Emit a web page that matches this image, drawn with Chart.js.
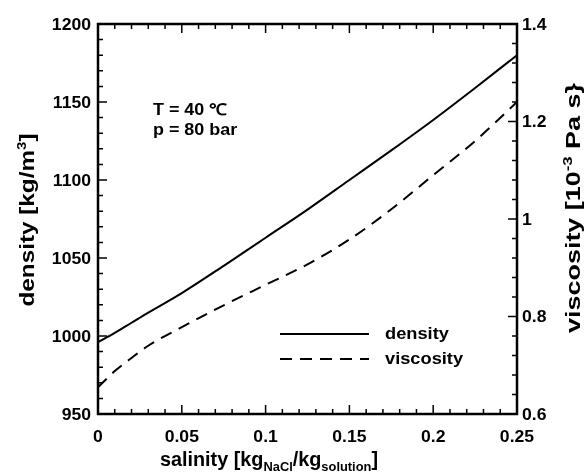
<!DOCTYPE html>
<html>
<head>
<meta charset="utf-8">
<script src="https://cdn.jsdelivr.net/npm/chart.js@4.4.0/dist/chart.umd.min.js"></script>
<style>
  body { margin: 0; background: #fff; }
  canvas { display: block; }
</style>
</head>
<body>
<canvas id="chart" width="586" height="473"></canvas>
<script>
// Data ---------------------------------------------------------------------------
const salinity  = [0, 0.01, 0.02, 0.03, 0.05, 0.075, 0.1, 0.125, 0.15, 0.175, 0.2, 0.225, 0.25];
const density   = [996, 1002, 1008.5, 1015, 1027.5, 1045, 1063, 1081, 1100, 1119, 1138.5, 1159, 1180];
const viscosity = [0.655, 0.688, 0.715, 0.74, 0.778, 0.823, 0.865, 0.907, 0.958, 1.02, 1.09, 1.16, 1.24];

const salinityTicks  = [0, 0.05, 0.1, 0.15, 0.2, 0.25];
const salinityLabels = ['0', '0.05', '0.1', '0.15', '0.2', '0.25'];
const densityTicks   = [950, 1000, 1050, 1100, 1150, 1200];
const viscosityTicks = [0.6, 0.8, 1.0, 1.2, 1.4];
const viscosityLabels = ['0.6', '0.8', '1', '1.2', '1.4'];

const seriesNames = ['density', 'viscosity'];

// helpers ------------------------------------------------------------------------
const FAMILY = '"Liberation Sans", Arial, Helvetica, sans-serif';
const font = size => 'bold ' + size + 'px ' + FAMILY;

// draw a run of text parts [{t, size, dy}] starting at x (baseline y), stretched horizontally
function partsWidth(ctx, parts) {
    let w = 0;
    parts.forEach(p => { ctx.font = font(p.size); w += ctx.measureText(p.t).width; });
    return w;
}
function drawParts(ctx, parts, x, y, stretch) {
    let cx = 0;
    ctx.save();
    ctx.translate(x, y);
    ctx.scale(stretch, 1);
    ctx.textAlign = 'left';
    ctx.textBaseline = 'alphabetic';
    parts.forEach(p => {
        ctx.font = font(p.size);
        ctx.fillText(p.t, cx, p.dy || 0);
        cx += ctx.measureText(p.t).width;
    });
    ctx.restore();
}
function drawLabel(ctx, text, x, y, align, size, stretch) {
    ctx.font = font(size);
    const w = ctx.measureText(text).width * stretch;
    let sx = x;
    if (align === 'right') sx = x - w;
    if (align === 'center') sx = x - w / 2;
    drawParts(ctx, [{ t: text, size: size }], sx, y, stretch);
}

// frame, inward ticks, labels, titles, note and legend ----------------------------
const decorPlugin = {
    id: 'decor',
    afterDraw(chart) {
        const { ctx, chartArea: a, scales } = chart;
        const xs = scales.x, yd = scales.yD, yv = scales.yV;
        ctx.save();
        ctx.fillStyle = '#000';
        ctx.strokeStyle = '#000';

        // minor + major ticks
        ctx.lineWidth = 1.5;
        ctx.beginPath();
        const tick = (x1, y1, x2, y2) => { ctx.moveTo(x1, y1); ctx.lineTo(x2, y2); };
        for (let i = 0; i <= 25; i++) {
            const px = xs.getPixelForValue(i * 0.01);
            const len = i % 5 === 0 ? 9 : 5;
            tick(px, a.bottom, px, a.bottom - len);
            tick(px, a.top, px, a.top + len);
        }
        for (let i = 0; i <= 25; i++) {
            const py = yd.getPixelForValue(950 + i * 10);
            tick(a.left, py, a.left + (i % 5 === 0 ? 9 : 5), py);
        }
        for (let i = 0; i <= 20; i++) {
            const py = yv.getPixelForValue(0.6 + i * 0.04);
            tick(a.right, py, a.right - (i % 5 === 0 ? 9 : 5), py);
        }
        ctx.stroke();

        // frame
        ctx.lineWidth = 2.5;
        ctx.strokeRect(a.left, a.top, a.right - a.left, a.bottom - a.top);

        // tick labels
        const TS = 16, ST = 1.1;
        densityTicks.forEach(v => {
            drawLabel(ctx, String(v), a.left - 7, yd.getPixelForValue(v) + 5.5, 'right', TS, ST);
        });
        viscosityTicks.forEach((v, i) => {
            drawLabel(ctx, viscosityLabels[i], a.right + 5, yv.getPixelForValue(v) + 5.5, 'left', TS, ST);
        });
        salinityTicks.forEach((v, i) => {
            drawLabel(ctx, salinityLabels[i], xs.getPixelForValue(v), a.bottom + 28, 'center', TS, ST);
        });

        // x title
        const xParts = [
            { t: 'salinity [kg', size: 20 },
            { t: 'NaCl', size: 13, dy: 5 },
            { t: '/kg', size: 20 },
            { t: 'solution', size: 13, dy: 5 },
            { t: ']', size: 20 }
        ];
        drawParts(ctx, xParts, 160, 466, 218 / partsWidth(ctx, xParts));

        // left title (rotated)
        const lParts = [
            { t: 'density [kg/m', size: 21 },
            { t: '3', size: 13, dy: -8 },
            { t: ']', size: 21 }
        ];
        const lS = 173 / partsWidth(ctx, lParts);
        ctx.save();
        ctx.translate(34, 220);
        ctx.rotate(-Math.PI / 2);
        drawParts(ctx, lParts, -173 / 2, 0, lS);
        ctx.restore();

        // right title (rotated)
        const rParts = [
            { t: 'viscosity [10', size: 21 },
            { t: '-3', size: 13, dy: -8 },
            { t: ' Pa s}', size: 21 }
        ];
        const rS = 250 / partsWidth(ctx, rParts);
        ctx.save();
        ctx.translate(580, 208);
        ctx.rotate(-Math.PI / 2);
        drawParts(ctx, rParts, -250 / 2, 0, rS);
        ctx.restore();

        // note
        drawLabel(ctx, 'T = 40 \u2103', 153, 115, 'left', 16, 1.12);
        drawLabel(ctx, 'p = 80 bar', 153, 135, 'left', 16, 1.12);

        // legend
        const rows = [334, 359];
        chart.data.datasets.forEach((ds, i) => {
            ctx.save();
            ctx.lineWidth = ds.borderWidth;
            ctx.setLineDash(ds.borderDash || []);
            ctx.beginPath();
            ctx.moveTo(280, rows[i]);
            ctx.lineTo(369, rows[i]);
            ctx.stroke();
            ctx.restore();
            drawLabel(ctx, seriesNames[i], 385, rows[i] + 5, 'left', 16, 1.14);
        });

        ctx.restore();
    }
};

// Chart --------------------------------------------------------------------------
const ctx = document.getElementById('chart').getContext('2d');
new Chart(ctx, {
    type: 'line',
    data: {
        datasets: [{
            label: seriesNames[0],
            data: salinity.map((s, i) => ({ x: s, y: density[i] })),
            yAxisID: 'yD',
            borderColor: '#000',
            borderWidth: 2,
            pointRadius: 0,
            cubicInterpolationMode: 'monotone',
            fill: false
        }, {
            label: seriesNames[1],
            data: salinity.map((s, i) => ({ x: s, y: viscosity[i] })),
            yAxisID: 'yV',
            borderColor: '#000',
            borderWidth: 2,
            borderDash: [12, 8],
            pointRadius: 0,
            cubicInterpolationMode: 'monotone',
            fill: false
        }]
    },
    options: {
        responsive: false,
        animation: false,
        layout: { padding: { top: 24, left: 0, right: 0, bottom: 0 } },
        plugins: { legend: { display: false }, tooltip: { enabled: false } },
        scales: {
            x: {
                type: 'linear', min: 0, max: 0.25,
                ticks: { display: false }, grid: { display: false }, border: { display: false },
                afterFit: s => { s.height = 59; }
            },
            yD: {
                type: 'linear', position: 'left', min: 950, max: 1200,
                ticks: { display: false }, grid: { display: false }, border: { display: false },
                afterFit: s => { s.width = 98; }
            },
            yV: {
                type: 'linear', position: 'right', min: 0.6, max: 1.4,
                ticks: { display: false }, grid: { display: false }, border: { display: false },
                afterFit: s => { s.width = 69; }
            }
        }
    },
    plugins: [decorPlugin]
});
</script>
</body>
</html>
